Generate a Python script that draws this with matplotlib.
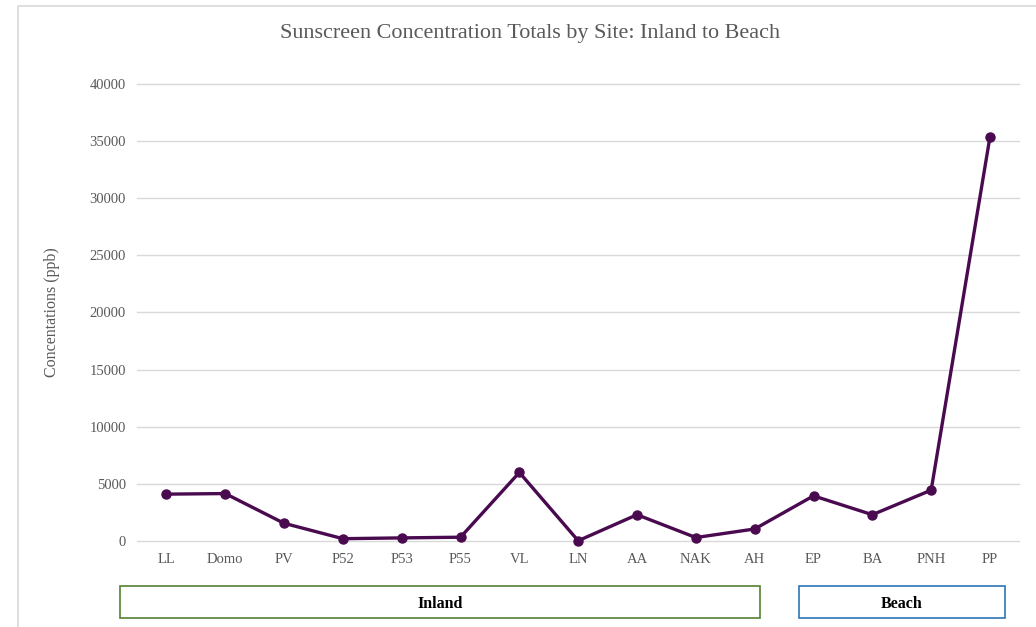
import matplotlib.pyplot as plt
from matplotlib.patches import Rectangle

# ---- data ----
sites = ["LL", "Domo", "PV", "P52", "P53", "P55", "VL", "LN", "AA",
         "NAK", "AH", "EP", "BA", "PNH", "PP"]
totals = [4100, 4150, 1550, 200, 270, 330, 6000, 20, 2300,
          300, 1050, 3950, 2300, 4450, 35400]
yticks = [0, 5000, 10000, 15000, 20000, 25000, 30000, 35000, 40000]
groups = ["Inland", "Beach"]

plt.rcParams['font.family'] = ['Liberation Serif', 'DejaVu Serif']
gray = "#595959"

fig = plt.figure(figsize=(10.36, 6.27), dpi=100)
ax = fig.add_axes([0.1322, 0.1372, 0.8518, 0.7288])

x = list(range(len(sites)))
ax.plot(x, totals, color="#4a0a4f", lw=2.4, marker="o", ms=6.5, zorder=3,
        clip_on=False)

ax.set_xlim(-0.5, len(sites) - 0.5)
ax.set_ylim(0, 40000)
ax.set_yticks(yticks)
ax.set_yticklabels([str(v) for v in yticks])
ax.set_xticks(x)
ax.set_xticklabels(sites)
ax.tick_params(axis="both", length=0, colors=gray, labelsize=10.5)
ax.tick_params(axis="x", pad=9)
ax.tick_params(axis="y", pad=8)
for v in yticks:
    ax.axhline(v, color="#d9d9d9", lw=1, zorder=1, clip_on=False)
for s in ax.spines.values():
    s.set_visible(False)

ax.set_ylabel("Concentations (ppb)", color=gray, fontsize=11.5, labelpad=21)
fig.text(0.5116, 0.946, "Sunscreen Concentration Totals by Site: Inland to Beach",
         ha="center", va="center", color=gray, fontsize=15.9)

# outer chart border
fig.patches.append(Rectangle((18 / 1036, -0.01), 1.1, 1 - 6 / 627 + 0.01,
                             transform=fig.transFigure, fill=False,
                             edgecolor="#d9d9d9", lw=1.2))

# group boxes under the axis
boxes = [(120, 760, "#548235"), (799, 1005, "#2e75b6")]
for name, (x0, x1, ec) in zip(groups, boxes):
    y0, y1 = 586, 618
    fig.patches.append(Rectangle((x0 / 1036, 1 - y1 / 627), (x1 - x0) / 1036,
                                 (y1 - y0) / 627, transform=fig.transFigure,
                                 fill=False, edgecolor=ec, lw=1.2))
    fig.text((x0 + x1) / 2 / 1036, 1 - (y0 + y1 + 3) / 2 / 627, name,
             ha="center", va="center", fontsize=11.5, fontweight="bold",
             color="black")

fig.savefig("out.png", dpi=100)
